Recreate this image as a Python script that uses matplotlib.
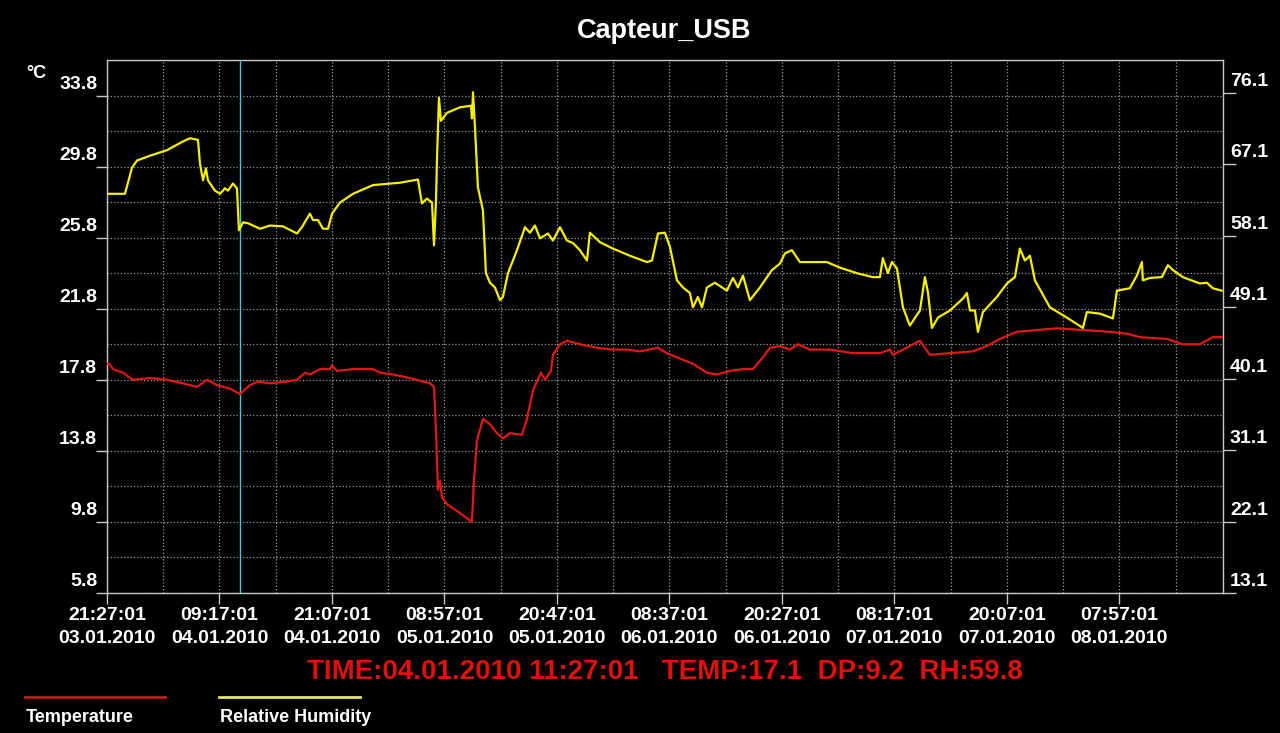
import matplotlib
matplotlib.use("Agg")
import matplotlib.pyplot as plt
from datetime import datetime, timedelta

# ---------------- data (hours since 03.01.2010 21:27:01) ----------------
start = datetime(2010, 1, 3, 21, 27, 1)

rh_hours = [0.0, 1.89, 2.63, 3.16, 4.52, 6.31, 7.99, 8.73, 9.57, 9.78, 10.10, 10.41, 10.62,
            11.36, 11.89, 12.41, 12.73, 13.25, 13.67, 13.88, 14.31, 14.83, 16.09, 17.15,
            18.51, 19.99, 20.51, 21.04, 21.35, 21.67, 22.19, 22.72, 23.25, 23.67, 24.51,
            25.88, 27.98, 30.82, 32.71, 33.13, 33.66, 34.19, 34.40, 34.61, 34.71, 34.92,
            35.13, 35.76, 37.13, 38.29, 38.39, 38.50, 38.71, 39.02, 39.55, 39.86, 40.29,
            40.81, 41.34, 41.65, 42.18, 43.13, 43.97, 44.49, 45.02, 45.55, 46.39, 46.91,
            47.65, 48.39, 49.02, 49.75, 50.49, 50.80, 51.86, 53.22, 55.01, 56.80, 57.33,
            57.96, 58.69, 59.22, 59.96, 60.59, 61.32, 61.64, 62.16, 62.59, 63.11, 63.95,
            65.21, 65.85, 66.37, 66.90, 67.63, 68.69, 69.95, 70.79, 71.32, 72.05, 72.89,
            74.26, 75.73, 77.10, 78.89, 80.57, 81.31, 81.62, 82.15, 82.57, 83.10, 83.73,
            84.46, 85.52, 86.04, 86.36, 86.78, 87.41, 88.67, 90.04, 90.46, 90.78, 91.30,
            91.62, 92.14, 93.61, 94.67, 95.51, 96.03, 96.56, 97.09, 97.61, 99.19, 100.98,
            102.66, 103.08, 104.45, 105.82, 106.24, 107.60, 108.34, 108.87, 108.97, 109.71,
            110.97, 111.60, 112.13, 113.18, 114.97, 115.70, 116.33, 117.27]
rh_values = [63.4, 63.4, 66.7, 67.6, 68.2, 68.9, 70.0, 70.4, 70.2, 67.2, 65.1, 66.6, 65.1,
             63.8, 63.4, 64.1, 63.8, 64.7, 64.1, 58.8, 59.8, 59.7, 59.0, 59.4,
             59.3, 58.4, 59.2, 60.3, 60.9, 60.1, 60.1, 59.0, 59.0, 60.9, 62.3,
             63.4, 64.5, 64.8, 65.2, 62.2, 62.8, 62.3, 56.9, 62.6, 67.6, 75.5,
             72.6, 73.6, 74.3, 74.5, 72.9, 76.2, 71.8, 64.2, 61.3, 53.4, 52.2,
             51.6, 50.0, 50.4, 53.4, 56.3, 59.2, 58.5, 59.4, 57.8, 58.4, 57.5,
             59.2, 57.5, 57.2, 56.3, 55.0, 58.5, 57.3, 56.5, 55.6, 54.8, 55.0,
             58.4, 58.5, 56.7, 52.5, 51.6, 50.9, 49.1, 50.4, 49.1, 51.6, 52.2,
             51.2, 52.8, 51.6, 53.1, 50.0, 51.6, 53.8, 54.6, 55.9, 56.3, 54.8,
             54.8, 54.8, 54.1, 53.4, 52.9, 52.9, 55.3, 53.4, 54.8, 54.0, 49.1,
             46.8, 48.7, 52.9, 51.0, 46.5, 47.8, 48.7, 50.2, 50.9, 48.7, 48.7,
             46.0, 48.5, 50.4, 52.1, 52.9, 56.5, 55.0, 55.6, 52.5, 49.1, 47.8,
             46.5, 48.5, 48.3, 47.7, 51.2, 51.5, 53.1, 54.8, 52.5, 52.8,
             52.9, 54.4, 53.8, 52.9, 52.1, 52.2, 51.5, 51.2]

temp_hours = [0.0, 0.21, 0.63, 1.68, 2.73, 4.52, 6.31, 7.99, 9.47, 10.52, 11.57, 12.94,
              13.99, 15.04, 15.88, 17.15, 18.93, 19.99, 20.83, 21.35, 22.40, 23.46, 23.67,
              24.19, 25.88, 27.98, 28.72, 30.08, 31.87, 33.24, 33.98, 34.40, 34.61, 34.82,
              35.03, 35.24, 35.76, 37.13, 38.39, 38.60, 38.92, 39.55, 40.29, 41.02, 41.65,
              42.39, 43.65, 44.18, 44.81, 45.65, 46.07, 46.70, 46.91, 47.65, 48.39, 49.75,
              51.54, 53.22, 54.70, 56.06, 57.96, 58.90, 60.27, 61.64, 63.11, 64.16, 65.53,
              66.90, 67.95, 68.90, 69.74, 70.79, 71.84, 72.68, 73.94, 76.05, 78.47, 81.31,
              82.36, 82.68, 84.46, 85.52, 86.57, 88.67, 91.09, 92.56, 93.93, 95.72, 97.82,
              99.93, 102.66, 105.50, 107.29, 108.66, 111.50, 113.18, 114.97, 116.33, 117.38]
temp_values = [18.7, 18.7, 18.4, 18.2, 17.8, 17.9, 17.8, 17.6, 17.4, 17.8, 17.5, 17.3,
               17.0, 17.5, 17.7, 17.6, 17.7, 17.8, 18.2, 18.1, 18.4, 18.4, 18.6,
               18.3, 18.4, 18.4, 18.2, 18.1, 17.9, 17.7, 17.6, 17.4, 14.9, 11.6,
               12.1, 11.2, 10.8, 10.3, 9.8, 12.1, 14.4, 15.6, 15.3, 14.8, 14.5,
               14.8, 14.7, 15.6, 17.2, 18.2, 17.8, 18.3, 19.2, 19.8, 20.0, 19.8,
               19.6, 19.5, 19.5, 19.4, 19.6, 19.3, 19.0, 18.7, 18.2, 18.1, 18.3,
               18.4, 18.4, 19.0, 19.6, 19.7, 19.5, 19.8, 19.5, 19.5, 19.3, 19.3,
               19.5, 19.2, 19.7, 20.0, 19.2, 19.3, 19.4, 19.7, 20.1, 20.5, 20.6,
               20.7, 20.6, 20.5, 20.4, 20.2, 20.1, 19.8, 19.8, 20.2, 20.2]

temp_ticks = [5.8, 9.8, 13.8, 17.8, 21.8, 25.8, 29.8, 33.8]
rh_ticks = [13.1, 22.1, 31.1, 40.1, 49.1, 58.1, 67.1, 76.1]
cursor_time = datetime(2010, 1, 4, 11, 27, 1)
status = "TIME:04.01.2010 11:27:01   TEMP:17.1  DP:9.2  RH:59.8"

# ---------------- graphics ----------------
plt.rcParams['font.family'] = ['Liberation Sans', 'DejaVu Sans']

fig = plt.figure(figsize=(12.8, 7.33), dpi=100, facecolor='black')
ax = fig.add_axes([107/1280, 1-593/733, (1223-107)/1280, (593-60)/733])
ax.set_facecolor('black')

t_temp = [start + timedelta(hours=h) for h in temp_hours]
t_rh = [start + timedelta(hours=h) for h in rh_hours]

step = timedelta(hours=11, minutes=50)
xmaj = [start + step*i for i in range(10)]
xmin = [start + step*i + step/2 for i in range(10)]
ax.set_xlim(start, start + timedelta(hours=117.4))
ax.set_ylim(5.8, 35.65)

ax.set_xticks(xmaj)
ax.set_xticks(xmin, minor=True)
ax.set_xticklabels([d.strftime('%H:%M:%S\n%d.%m.%Y') for d in xmaj],
                   color='white', fontsize=14, fontweight='bold', linespacing=1.45)
ax.set_yticks(temp_ticks)
ax.set_yticks([v + 2 for v in temp_ticks], minor=True)
ax.set_yticklabels([f'{v:.1f}' for v in temp_ticks], color='white', fontsize=14,
                   fontweight='bold', va='bottom')

ax.tick_params(axis='x', which='major', direction='out', length=8, width=1, color='#c8c8c8', pad=2)
ax.tick_params(axis='y', which='major', direction='out', length=8, width=1, color='#c8c8c8', pad=-1)
ax.tick_params(which='minor', length=0)
for lab in ax.get_yticklabels():
    lab.set_y(lab.get_position()[1])
ax.grid(which='both', linestyle=':', linewidth=0.9, color='#9a9a9a')
for s in ax.spines.values():
    s.set_color('#c8c8c8')
    s.set_linewidth(1)

ax.axvline(cursor_time, color='#40c8d8', linewidth=1, zorder=3)
ax.plot(t_temp, temp_values, color='#e01818', linewidth=1.6, zorder=4)

ax2 = ax.twinx()
ax2.set_ylim(13.1, 13.1 + (35.65 - 5.8) * 2.25)
ax2.set_yticks(rh_ticks)
ax2.set_yticklabels([f'{v:.1f}' for v in rh_ticks], color='white', fontsize=14,
                    fontweight='bold', va='bottom')
ax2.tick_params(direction='out', length=9, width=1, color='#c8c8c8', pad=-4)
for s in ax2.spines.values():
    s.set_visible(False)
ax2.plot(t_rh, rh_values, color='#f5f000', linewidth=1.6, zorder=4)

# lift the y tick labels a little above their ticks, like the reference
from matplotlib.transforms import ScaledTranslation
lift = ScaledTranslation(0, 3/100, fig.dpi_scale_trans)
for a in (ax, ax2):
    for tick in a.yaxis.get_major_ticks():
        for lab in (tick.label1, tick.label2):
            lab.set_transform(lab.get_transform() + lift)

fig.text(664/1280, 1-31/733, 'Capteur_USB', color='white', fontsize=19.5,
         fontweight='bold', ha='center', va='center')
fig.text(36/1280, 1-73/733, '°C', color='white', fontsize=13,
         fontweight='bold', ha='center', va='center')
fig.text(665/1280, 1-672/733, status, color='#e01010', fontsize=20,
         fontweight='bold', ha='center', va='center')

# legend
fig.add_artist(plt.Line2D([25/1280, 165/1280], [1-697/733]*2, color='#b82020', linewidth=2))
fig.add_artist(plt.Line2D([219/1280, 360/1280], [1-697/733]*2, color='#e6e66a', linewidth=2))
fig.text(26/1280, 1-717/733, 'Temperature', color='white', fontsize=13,
         fontweight='bold', va='center')
fig.text(220/1280, 1-717/733, 'Relative Humidity', color='white', fontsize=13,
         fontweight='bold', va='center')

fig.savefig('out.png', dpi=100, facecolor='black')
